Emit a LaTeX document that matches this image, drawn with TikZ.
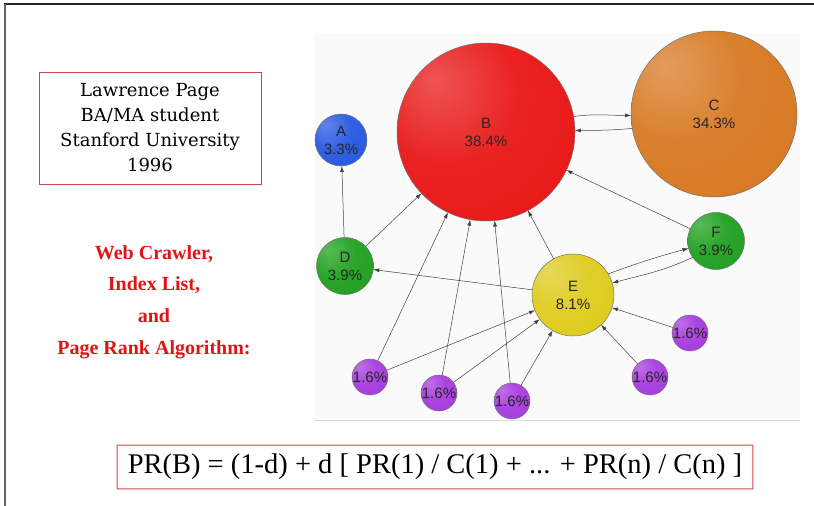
\documentclass[tikz,border=0pt]{standalone}
\usepackage{fontspec}
\setsansfont{Liberation Sans}
\newfontfamily\timesf{Liberation Serif}
\newfontfamily\schoolf{DejaVu Serif}
\usetikzlibrary{arrows.meta}
\colorlet{ballc}{red}
\pgfdeclareradialshading[ballc]{softball}{\pgfqpoint{-15bp}{15bp}}{%
  color(0bp)=(ballc!72!white); color(20bp)=(ballc!93!white);
  color(48bp)=(ballc); color(71bp)=(ballc!82!black)}
\definecolor{cA}{RGB}{35,85,225}
\definecolor{cB}{RGB}{232,18,18}
\definecolor{cC}{RGB}{215,118,30}
\definecolor{cG}{RGB}{28,158,28}
\definecolor{cE}{RGB}{222,202,25}
\definecolor{cP}{RGB}{165,55,222}
\definecolor{boxred}{RGB}{210,70,70}
\definecolor{txtred}{RGB}{225,20,20}
\tikzset{
  ball/.style={circle, draw=black!55, line width=0.5pt, inner sep=0pt, outer sep=0pt,
    minimum size=#1, shading=softball, align=center, text=black!85,
    font=\sffamily\fontsize{15}{18}\selectfont},
  bc/.style={/utils/exec={\colorlet{ballc}{#1}}},
  arr/.style={-{Latex[length=6pt,width=4pt]}, draw=black!75, line width=0.5pt},
  redbox/.style={draw=boxred, line width=0.8pt, inner sep=0pt, outer sep=0pt}
}
\begin{document}
\begin{tikzpicture}[x=1pt,y=-1pt]
\useasboundingbox (0,0) rectangle (814,506);
\fill[white] (0,0) rectangle (814,506);
% frame
\draw[line width=1.2pt, black!85] (4,4) -- (814,4);
\draw[line width=1.2pt, black!60] (5,4) -- (5,506);
% graph background
\fill[black!2] (314,33) rectangle (800,420);
\draw[black!15, line width=0.6pt] (314,420) -- (800,420);

% text boxes
\node[redbox, minimum width=222pt, minimum height=112pt, align=center,
  font=\schoolf\fontsize{18}{25}\selectfont] (bio) at (150,128)
  {Lawrence Page\\BA/MA student\\Stanford University\\1996};
\node[inner sep=0pt, outer sep=0pt, minimum width=636pt, minimum height=44pt,
  align=center, font=\timesf\fontsize{28.5}{30}\selectfont] (pr) at (435,467)
  {PR(B) = (1-d) + d [ PR(1) / C(1) + ... + PR(n) / C(n) ]};
\fill[boxred, even odd rule] ([xshift=-0.4pt,yshift=0.4pt]pr.north west)
  rectangle ([xshift=0.4pt,yshift=-0.4pt]pr.south east)
  ([xshift=0.6pt,yshift=-0.6pt]pr.north west)
  rectangle ([xshift=-0.6pt,yshift=0.6pt]pr.south east);
\node[align=center, text=txtred, font=\timesf\bfseries\fontsize{20}{31.8}\selectfont]
  (topics) at (154,302) {Web Crawler,\\Index List,\\and\\Page Rank Algorithm:};

% nodes
\node[ball=178pt, bc=cB] (B) at (486,132) {B\\38.4\%};
\node[ball=166pt, bc=cC] (C) at (714,114) {C\\34.3\%};
\node[ball=52pt, bc=cA] (A) at (341,140) {A\\3.3\%};
\node[ball=57pt, bc=cG] (D) at (345,266) {D\\3.9\%};
\node[ball=57pt, bc=cG] (F) at (716,241) {F\\3.9\%};
\node[ball=82pt, bc=cE] (E) at (573,295) {E\\8.1\%};
\node[ball=36pt, bc=cP] (P1) at (370,377) {1.6\%};
\node[ball=36pt, bc=cP] (P2) at (439,393) {1.6\%};
\node[ball=36pt, bc=cP] (P3) at (512,401) {1.6\%};
\node[ball=36pt, bc=cP] (P4) at (650,377) {1.6\%};
\node[ball=36pt, bc=cP] (P5) at (690,333) {1.6\%};

% edges
\draw[arr] (D) -- (A);
\draw[arr] (D) -- (B);
\draw[arr] (E) -- (D);
\draw[arr] (E) -- (B);
\draw[arr] (F) -- (B);
\draw[arr] (B.10) to[out=8,in=180] (C.181);
\draw[arr] (C.190) to[out=185,in=0] (B.1);
\draw[arr] (E.31) to[out=20,in=195] (F.195);
\draw[arr] (F.215) to[out=205,in=15] (E.17);
\draw[arr] (P1) -- (B);
\draw[arr] (P2) -- (B);
\draw[arr] (P3) -- (B);
\draw[arr] (P1) -- (E);
\draw[arr] (P2) -- (E);
\draw[arr] (P3) -- (E);
\draw[arr] (P4) -- (E);
\draw[arr] (P5) -- (E);
\end{tikzpicture}
\end{document}
